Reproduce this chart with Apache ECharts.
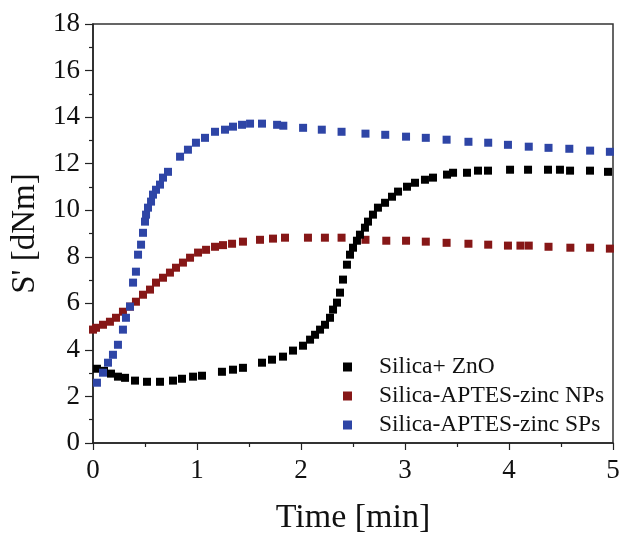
<!DOCTYPE html>
<html>
<head>
<meta charset="utf-8">
<script src="https://cdn.jsdelivr.net/npm/echarts@6/dist/echarts.min.js"></script>
<style>html,body{margin:0;padding:0;background:#fff}#c{width:619px;height:538px}</style>
</head>
<body>
<div id="c"></div>
<script>
const seriesNames = ['Silica+ ZnO', 'Silica-APTES-zinc NPs', 'Silica-APTES-zinc SPs'];
const xTicks = [0, 1, 2, 3, 4, 5];
const yTicks = [0, 2, 4, 6, 8, 10, 12, 14, 16, 18];

const znoTime = [0.038,0.106,0.173,0.240,0.308,0.404,0.519,0.644,0.769,0.856,0.962,1.048,1.240,1.346,1.442,1.625,1.721,1.827,1.923,2.019,2.087,2.135,2.183,2.231,2.279,2.308,2.346,2.375,2.404,2.442,2.471,2.500,2.538,2.567,2.615,2.644,2.692,2.740,2.808,2.875,2.933,3.019,3.096,3.192,3.269,3.404,3.462,3.596,3.702,3.798,4.010,4.183,4.375,4.490,4.587,4.779,4.952];
const znoS = [3.19,3.10,2.98,2.85,2.80,2.68,2.63,2.63,2.68,2.76,2.85,2.89,3.06,3.15,3.23,3.45,3.58,3.71,3.97,4.18,4.44,4.65,4.87,5.08,5.38,5.73,6.03,6.46,7.02,7.66,8.09,8.39,8.69,8.95,9.25,9.51,9.81,10.11,10.32,10.58,10.80,11.01,11.18,11.31,11.40,11.53,11.61,11.61,11.70,11.70,11.74,11.74,11.74,11.74,11.70,11.70,11.65];

const npTime = [0.0,0.029,0.096,0.163,0.221,0.288,0.356,0.413,0.481,0.548,0.606,0.673,0.740,0.798,0.865,0.933,1.010,1.087,1.173,1.250,1.337,1.442,1.606,1.731,1.846,2.067,2.230,2.390,2.620,2.820,3.010,3.200,3.400,3.610,3.800,3.990,4.110,4.190,4.380,4.590,4.780,4.970];
const npS = [4.87,4.95,5.08,5.21,5.38,5.64,5.86,6.07,6.37,6.59,6.89,7.10,7.32,7.53,7.75,7.96,8.18,8.30,8.43,8.50,8.56,8.65,8.73,8.78,8.82,8.82,8.82,8.82,8.73,8.69,8.69,8.65,8.60,8.56,8.52,8.48,8.48,8.48,8.43,8.39,8.39,8.35];

const spTime = [0.038,0.096,0.144,0.192,0.240,0.288,0.317,0.356,0.385,0.413,0.433,0.462,0.481,0.500,0.510,0.529,0.558,0.577,0.606,0.644,0.673,0.721,0.837,0.913,0.990,1.077,1.173,1.269,1.346,1.433,1.510,1.625,1.770,1.830,2.020,2.200,2.390,2.620,2.810,3.010,3.200,3.400,3.610,3.800,3.990,4.190,4.380,4.580,4.780,4.970];
const spS = [2.59,3.02,3.45,3.79,4.22,4.87,5.38,5.86,6.89,7.36,8.09,8.52,9.03,9.51,9.81,10.11,10.37,10.67,10.88,11.10,11.40,11.65,12.30,12.60,12.90,13.11,13.37,13.46,13.59,13.67,13.72,13.72,13.67,13.63,13.54,13.46,13.37,13.29,13.24,13.16,13.11,13.03,12.94,12.90,12.81,12.73,12.68,12.64,12.56,12.51];

const colors = ['#000000', '#861717', '#2e45a6'];
const pair = (xs, ys) => xs.map((x, i) => [x, ys[i]]);
const font = '"Liberation Serif", "Times New Roman", serif';

const chart = echarts.init(document.getElementById('c'), null, {renderer: 'canvas'});
chart.setOption({
  animation: false,
  backgroundColor: '#fff',
  textStyle: {fontFamily: font},
  grid: {left: 93, right: 6, top: 24, bottom: 95, outerBoundsMode: 'none', containLabel: false, show: true, borderColor: '#333', borderWidth: 1.5, backgroundColor: 'transparent'},
  xAxis: {
    type: 'value', min: xTicks[0], max: xTicks[xTicks.length - 1], interval: 1,
    name: 'Time [min]', nameLocation: 'middle', nameGap: 58,
    nameTextStyle: {fontFamily: font, fontSize: 34, color: '#111'},
    axisLine: {show: true, lineStyle: {color: '#222', width: 1.5}},
    axisTick: {show: true, inside: false, length: 7, lineStyle: {color: '#222', width: 1.2}},
    minorTick: {show: true, splitNumber: 2, length: 4, lineStyle: {color: '#222', width: 1.2}},
    axisLabel: {fontFamily: font, fontSize: 27, color: '#111', margin: 14},
    splitLine: {show: false}
  },
  yAxis: {
    type: 'value', min: yTicks[0], max: yTicks[yTicks.length - 1], interval: 2,
    name: "S' [dNm]", nameLocation: 'middle', nameGap: 50,
    nameTextStyle: {fontFamily: font, fontSize: 33, color: '#111'},
    axisLine: {show: true, lineStyle: {color: '#222', width: 1.5}},
    axisTick: {show: true, inside: false, length: 8, lineStyle: {color: '#222', width: 1.2}},
    minorTick: {show: true, splitNumber: 2, length: 4, lineStyle: {color: '#222', width: 1.2}},
    axisLabel: {fontFamily: font, fontSize: 27, color: '#111', margin: 13},
    splitLine: {show: false}
  },
  legend: {
    orient: 'vertical', left: 338, top: 350, itemWidth: 9, itemHeight: 9, itemGap: 5,
    icon: 'rect',
    textStyle: {fontFamily: font, fontSize: 23.5, color: '#111', padding: [0, 0, 0, 22]},
    data: seriesNames
  },
  series: [
    {name: seriesNames[0], type: 'scatter', symbol: 'rect', symbolSize: 8, itemStyle: {color: colors[0], opacity: 1}, data: pair(znoTime, znoS), z: 3},
    {name: seriesNames[1], type: 'scatter', symbol: 'rect', symbolSize: 8, itemStyle: {color: colors[1], opacity: 1}, data: pair(npTime, npS), z: 2},
    {name: seriesNames[2], type: 'scatter', symbol: 'rect', symbolSize: 8, itemStyle: {color: colors[2], opacity: 1}, data: pair(spTime, spS), z: 4}
  ]
});
</script>
</body>
</html>
